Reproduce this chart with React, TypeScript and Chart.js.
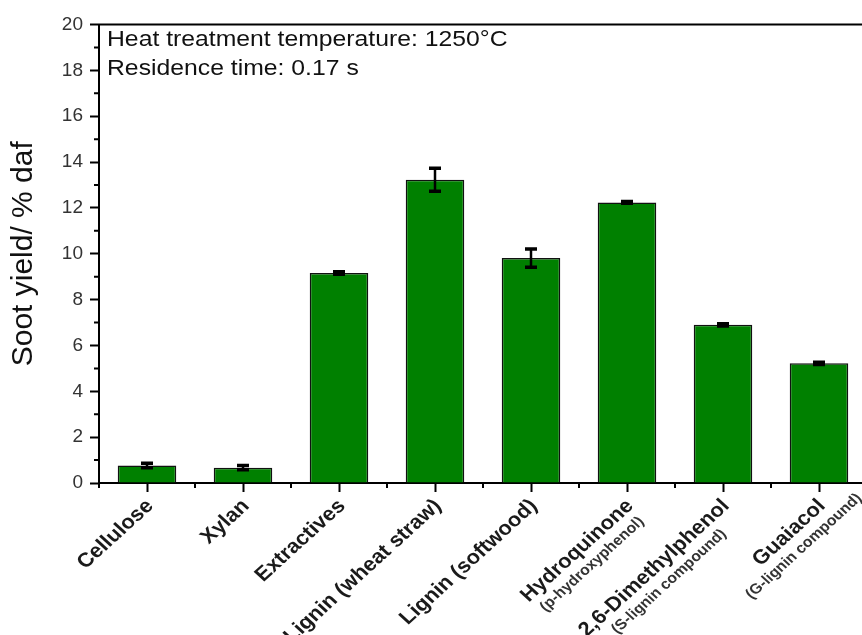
import React, { useEffect, useRef } from 'react';
import { Chart, registerables } from 'chart.js';

Chart.register(...registerables);

const categories = [
  'Cellulose',
  'Xylan',
  'Extractives',
  'Lignin (wheat straw)',
  'Lignin (softwood)',
  'Hydroquinone',
  '2,6-Dimethylphenol',
  'Guaiacol',
];
const subLabels = ['', '', '', '', '', '(p-hydroxyphenol)', '(S-lignin compound)', '(G-lignin compound)'];
const sootYield = [0.76, 0.67, 9.16, 13.23, 9.81, 12.24, 6.9, 5.22];
const yieldError = [0.1, 0.09, 0.05, 0.5, 0.4, 0.04, 0.05, 0.05];
const yMin = 0;
const yMax = 20;
const yStep = 2;
const annotationLines = ['Heat treatment temperature: 1250°C', 'Residence time: 0.17 s'];
const yTitle = 'Soot yield/ % daf';

const FONT = '"Liberation Sans", Arial, Helvetica, sans-serif';
const SX = 1.1; // horizontal stretch of the reference image

const errorBarPlugin = {
  id: 'errorBars',
  afterDatasetsDraw(chart: any) {
    const { ctx } = chart;
    const y = chart.scales.y;
    const meta = chart.getDatasetMeta(0);
    ctx.save();
    ctx.strokeStyle = '#000';
    meta.data.forEach((bar: any, i: number) => {
      const v = sootYield[i];
      const e = yieldError[i];
      const top = y.getPixelForValue(v + e);
      const bot = y.getPixelForValue(v - e);
      const x = bar.x;
      ctx.lineWidth = 2.5;
      ctx.beginPath();
      ctx.moveTo(x, top);
      ctx.lineTo(x, bot);
      ctx.stroke();
      ctx.lineWidth = 3.5;
      ctx.beginPath();
      ctx.moveTo(x - 6, top);
      ctx.lineTo(x + 6, top);
      ctx.moveTo(x - 6, bot);
      ctx.lineTo(x + 6, bot);
      ctx.stroke();
    });
    ctx.restore();
  },
};

const decorPlugin = {
  id: 'decor',
  afterDraw(chart: any) {
    const { ctx, chartArea } = chart;
    const { left, right, top, bottom } = chartArea;
    const x = chart.scales.x;
    const y = chart.scales.y;
    ctx.save();
    // frame top and right
    ctx.strokeStyle = '#000';
    ctx.lineWidth = 2;
    ctx.beginPath();
    ctx.moveTo(left - 1, top);
    ctx.lineTo(right + 1, top);
    ctx.lineTo(right + 1, bottom);
    ctx.stroke();
    // minor y ticks
    ctx.lineWidth = 2;
    ctx.beginPath();
    for (let v = yMin + yStep / 2; v < yMax; v += yStep) {
      const py = y.getPixelForValue(v);
      ctx.moveTo(left, py);
      ctx.lineTo(left - 5, py);
    }
    // minor x ticks at category boundaries
    for (let i = 0; i <= categories.length; i++) {
      const px = x.getPixelForValue(i - 0.5);
      ctx.moveTo(px, bottom);
      ctx.lineTo(px, bottom + 5);
    }
    ctx.stroke();

    // annotation text
    ctx.fillStyle = '#111';
    ctx.font = `22.5px ${FONT}`;
    ctx.textAlign = 'left';
    ctx.textBaseline = 'alphabetic';
    annotationLines.forEach((line, i) => {
      ctx.save();
      ctx.translate(left + 8, top + 21.5 + i * 29);
      ctx.scale(SX, 1);
      ctx.fillText(line, 0, 0);
      ctx.restore();
    });

    // rotated category labels
    categories.forEach((label, i) => {
      const cx = x.getPixelForValue(i);
      ctx.save();
      ctx.translate(cx + 3, bottom + 20);
      ctx.scale(SX, 1);
      ctx.rotate(-Math.PI / 4);
      ctx.fillStyle = '#1a1a1a';
      ctx.font = `bold 20px ${FONT}`;
      ctx.textAlign = 'right';
      ctx.textBaseline = 'middle';
      ctx.fillText(label, 0, 0);
      const w = ctx.measureText(label).width;
      if (subLabels[i]) {
        ctx.fillStyle = '#333';
        ctx.font = `bold 14.5px ${FONT}`;
        ctx.textAlign = 'center';
        ctx.fillText(subLabels[i], -w / 2, 19);
      }
      ctx.restore();
    });
    ctx.restore();
  },
};

export default function App() {
  const canvasRef = useRef<HTMLCanvasElement | null>(null);

  useEffect(() => {
    if (!canvasRef.current) return;
    const chart = new Chart(canvasRef.current, {
      type: 'bar',
      data: {
        labels: categories,
        datasets: [
          {
            data: sootYield,
            backgroundColor: '#008000',
            borderColor: '#111',
            borderWidth: 1.5,
            barPercentage: 0.61,
            categoryPercentage: 1,
          },
        ],
      },
      options: {
        responsive: false,
        animation: false,
        layout: { padding: { left: 0, right: 13, top: 24.5, bottom: 0 } },
        plugins: {
          legend: { display: false },
          tooltip: { enabled: false },
        },
        scales: {
          x: {
            offset: true,
            border: { display: true, color: '#000', width: 2 },
            grid: {
              offset: false,
              drawOnChartArea: false,
              drawTicks: true,
              tickLength: 9,
              tickWidth: 2,
              tickColor: '#000',
            },
            ticks: { callback: () => '', maxRotation: 0, autoSkip: false },
            afterFit(scale: any) {
              scale.height = 152;
            },
          },
          y: {
            min: yMin,
            max: yMax,
            border: { display: true, color: '#000', width: 2 },
            grid: {
              drawOnChartArea: false,
              drawTicks: true,
              tickLength: 9,
              tickWidth: 2,
              tickColor: '#000',
            },
            ticks: {
              stepSize: yStep,
              color: '#333',
              padding: 7,
              font: { size: 19, family: FONT },
            },
            title: {
              display: true,
              text: yTitle,
              color: '#111',
              font: { size: 30, family: FONT, lineHeight: 1.2 },
              padding: { top: 5.5, bottom: 0 },
            },
            afterFit(scale: any) {
              scale.width = 99;
            },
          },
        },
      },
      plugins: [errorBarPlugin, decorPlugin],
    } as any);
    return () => chart.destroy();
  }, []);

  return (
    <div
      style={{
        position: 'fixed',
        left: 0,
        top: 0,
        width: 862,
        height: 635,
        overflow: 'hidden',
        background: '#fff',
      }}
    >
      <canvas
        ref={canvasRef}
        width={880}
        height={635}
        style={{ width: 880, height: 635, display: 'block' }}
      />
    </div>
  );
}
